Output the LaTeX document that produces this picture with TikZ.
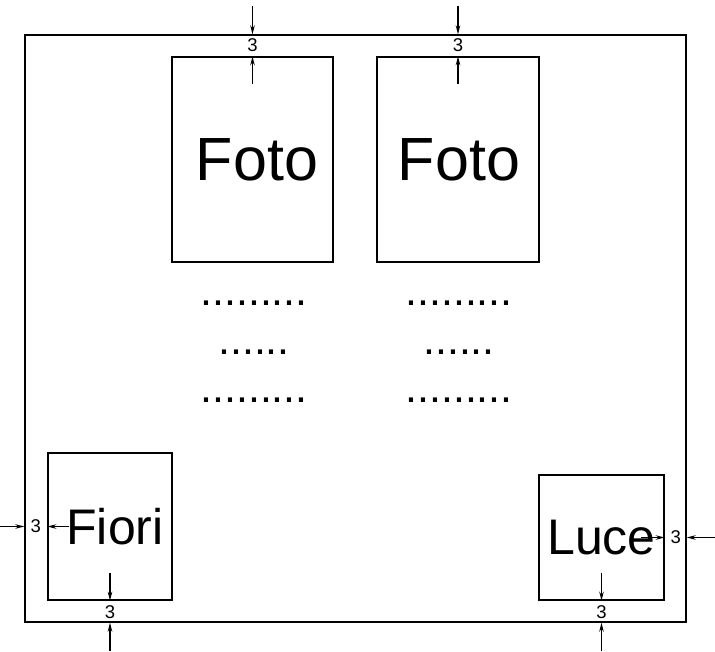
\documentclass[tikz,border=0pt]{standalone}
\usepackage{fontspec}
\setmainfont{Liberation Sans}
\usetikzlibrary{arrows.meta,calc}
\tikzset{
	card/.style={draw, line width=1.4pt, inner sep=0pt, font=\fontsize{50}{52}\selectfont},
	dim/.style={line width=1.2pt, -{Stealth[length=9pt,width=4.5pt]}},
	num/.style={inner sep=0pt, font=\fontsize{18.5}{19}\selectfont},
	dots/.style={inner sep=0pt, anchor=base, font=\fontsize{43}{44}\selectfont}
}
\begin{document}
\begin{tikzpicture}[x=1pt,y=-1pt]
	\useasboundingbox (0,0) rectangle (715,651);
	\node[draw, line width=1.4pt, minimum width=661pt, minimum height=587pt] (sheet) at (355.5,328.5) {};
	\node[card, minimum width=161pt, minimum height=205pt, font=\fontsize{61}{62}\selectfont] (foto1) at (252.5,159.5) {\hspace{9pt}Foto};
	\node[card, minimum width=162pt, minimum height=205pt, font=\fontsize{61}{62}\selectfont] (foto2) at (458,159.5) {\hspace{2pt}Foto};
	\node[card, minimum width=124pt, minimum height=147pt] (fiori) at (110,526.5) {\hspace{10pt}Fiori};
	\node[card, minimum width=125pt, minimum height=125pt] (luce) at (601.5,537.5) {Luce};
	
	\foreach \x in {254,459} {
		\node[dots] at (\x,305) {.........};
		\node[dots] at (\x,354) {......};
		\node[dots] at (\x,402) {.........};
	}
	
	\foreach \b in {foto1,foto2} {
		\draw[dim] ([yshift=28pt]\b.north |- sheet.north) -- (\b.north |- sheet.north);
		\draw[dim] ([yshift=-28pt]\b.north) -- (\b.north);
		\node[num] at ($(\b.north)!.5!(\b.north |- sheet.north)$) {3};
	}
	\foreach \b in {fiori,luce} {
		\draw[dim] ([yshift=-28pt]\b.south |- sheet.south) -- (\b.south |- sheet.south);
		\draw[dim] ([yshift=28pt]\b.south) -- (\b.south);
		\node[num] at ($(\b.south)!.5!(\b.south |- sheet.south)$) {3};
	}
	\draw[dim] ([xshift=-25pt]fiori.west -| sheet.west) -- (fiori.west -| sheet.west);
	\draw[dim] ([xshift=22pt]fiori.west) -- (fiori.west);
	\node[num] at ($(fiori.west)!.5!(fiori.west -| sheet.west)$) {3};
	\draw[dim] ([xshift=29pt]luce.east -| sheet.east) -- (luce.east -| sheet.east);
	\draw[dim] ([xshift=-24pt]luce.east) -- (luce.east);
	\node[num] at ($(luce.east)!.5!(luce.east -| sheet.east)$) {3};
\end{tikzpicture}
\end{document}
